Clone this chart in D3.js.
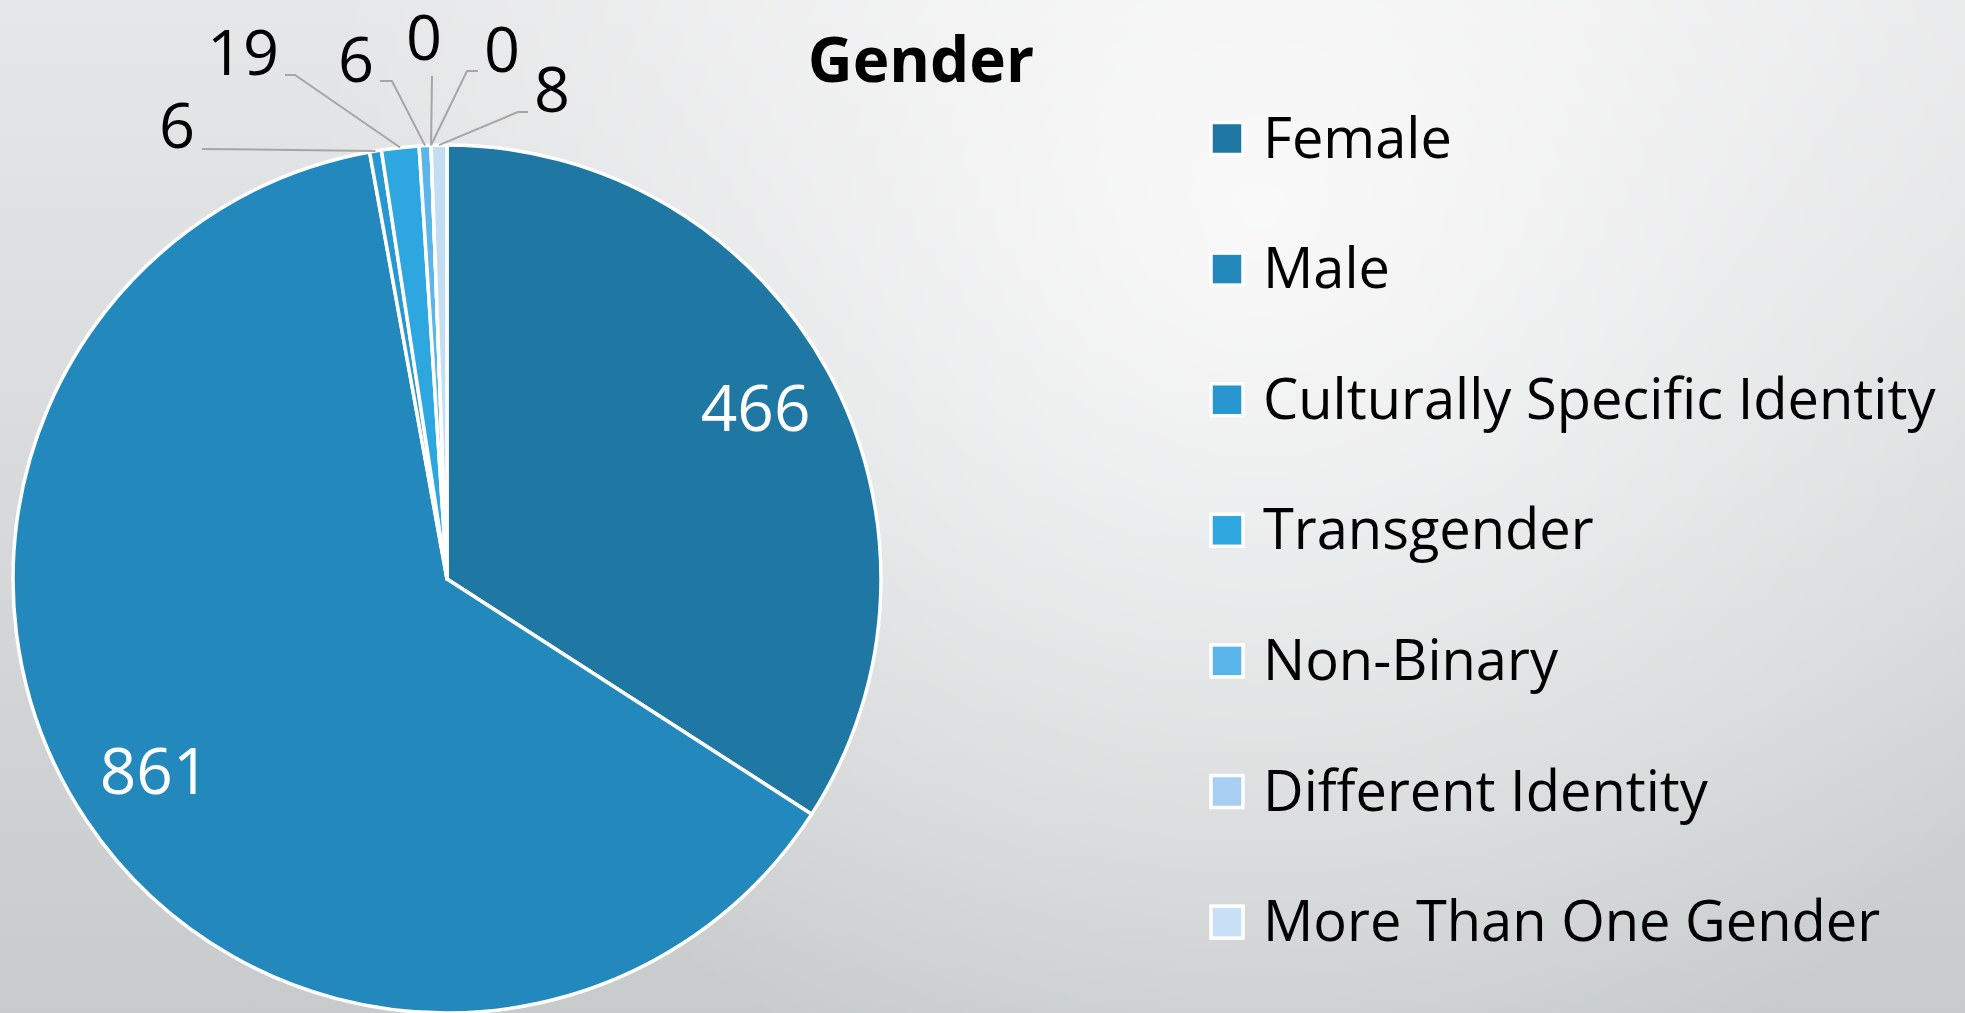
<!DOCTYPE html>
<html>
<head>
<meta charset="utf-8">
<script src="https://cdn.jsdelivr.net/npm/d3@7"></script>
<style>
  body { margin: 0; background: #e6e7e8; }
  svg { display: block; font-family: "Open Sans", sans-serif; }
</style>
</head>
<body>
<svg id="chart" width="1965" height="1013"></svg>
<script>
const title = "Gender";
const categories = ["Female", "Male", "Culturally Specific Identity", "Transgender",
  "Non-Binary", "Different Identity", "More Than One Gender", "Unknown"];
const counts = [466, 861, 6, 19, 6, 0, 0, 8];
const colors = ["#1f77a3", "#2389bd", "#2896d0", "#2ea6e0",
  "#5bb4ea", "#a8cff1", "#c8e0f5", "#c3ddf3"];

// hand placed callouts for the thin slices (offsets from pie centre)
const callouts = {
  2: { label: [-270, -431], start: [-245, -430], stub: 0 },
  3: { label: [-204, -504], start: [-162, -504], stub: 10 },
  4: { label: [-91, -497], start: [-67, -498], stub: 12 },
  5: { label: [-23, -519], start: [-15, -503], stub: 0 },
  6: { label: [55, -507], start: [31, -508], stub: -11 },
  7: { label: [105, -467], start: [81, -467], stub: -10 }
};

const W = 1965, H = 1013;
const cx = 447, cy = 579, R = 434;

const svg = d3.select("#chart");
const defs = svg.append("defs");

const lin = defs.append("linearGradient")
  .attr("id", "bgLin").attr("x1", 0).attr("y1", 0).attr("x2", 0).attr("y2", 1);
lin.append("stop").attr("offset", 0).attr("stop-color", "#e6e7e8");
lin.append("stop").attr("offset", 1).attr("stop-color", "#c8cbcc");

const rad = defs.append("radialGradient")
  .attr("id", "bgRad").attr("gradientUnits", "userSpaceOnUse")
  .attr("cx", 1260).attr("cy", 210).attr("r", 950);
rad.append("stop").attr("offset", 0).attr("stop-color", "#fff").attr("stop-opacity", 0.8);
rad.append("stop").attr("offset", 0.45).attr("stop-color", "#fff").attr("stop-opacity", 0.45);
rad.append("stop").attr("offset", 1).attr("stop-color", "#fff").attr("stop-opacity", 0);

svg.append("rect").attr("width", W).attr("height", H).attr("fill", "url(#bgLin)");
svg.append("rect").attr("width", W).attr("height", H).attr("fill", "url(#bgRad)");

const data = categories.map((c, i) => ({ name: c, value: counts[i], color: colors[i], i }));

const pie = d3.pie().sort(null).value(d => d.value);
const arcs = pie(data);

const arc = d3.arc().innerRadius(0).outerRadius(R);
const labelArc = d3.arc().innerRadius(R * 0.81).outerRadius(R * 0.81);
const edgeArc = d3.arc().innerRadius(R).outerRadius(R);

const g = svg.append("g").attr("transform", `translate(${cx},${cy})`);

g.selectAll(".slice")
  .data(arcs)
  .join("path")
    .attr("class", "slice")
    .attr("d", arc)
    .attr("fill", d => d.data.color)
    .attr("stroke", "#fff")
    .attr("stroke-width", 3.5)
    .attr("stroke-linejoin", "round");

// big slices: labels inside
g.selectAll(".inLabel")
  .data(arcs.filter(d => !callouts[d.data.i]))
  .join("text")
    .attr("class", "inLabel")
    .attr("transform", d => `translate(${labelArc.centroid(d)})`)
    .attr("dy", 20)
    .attr("text-anchor", "middle")
    .attr("fill", "#fff")
    .attr("font-size", 64)
    .text(d => d.data.value);

// thin slices: leader lines + outside labels
const small = arcs.filter(d => callouts[d.data.i]);

g.selectAll(".leader")
  .data(small)
  .join("polyline")
    .attr("class", "leader")
    .attr("fill", "none")
    .attr("stroke", "#a6a6a6")
    .attr("stroke-width", 2)
    .attr("points", d => {
      const c = callouts[d.data.i];
      const end = edgeArc.centroid(d);
      return [c.start, [c.start[0] + c.stub, c.start[1]], end].map(p => p.join(",")).join(" ");
    });

g.selectAll(".outLabel")
  .data(small)
  .join("text")
    .attr("class", "outLabel")
    .attr("x", d => callouts[d.data.i].label[0])
    .attr("y", d => callouts[d.data.i].label[1])
    .attr("text-anchor", "middle")
    .attr("fill", "#000")
    .attr("font-size", 63)
    .text(d => d.data.value);

svg.append("text")
  .attr("x", 921).attr("y", 82)
  .attr("text-anchor", "middle")
  .attr("font-size", 62)
  .attr("font-weight", "bold")
  .text(title);

// legend, rows that don't fit are dropped like in the source
const legendY = d3.scaleLinear().domain([0, 1]).range([138.5, 269.1]);
const rows = data.filter(d => legendY(d.i) + 25 < H);

const leg = svg.append("g").selectAll("g")
  .data(rows)
  .join("g")
    .attr("transform", d => `translate(1211,${legendY(d.i)})`);

leg.append("rect")
  .attr("x", 0).attr("y", -16).attr("width", 32).attr("height", 32)
  .attr("fill", d => d.color)
  .attr("stroke", "#fff")
  .attr("stroke-width", 3.5);

leg.append("text")
  .attr("x", 52).attr("y", 19)
  .attr("font-size", 56)
  .attr("fill", "#000")
  .text(d => d.name);
</script>
</body>
</html>
